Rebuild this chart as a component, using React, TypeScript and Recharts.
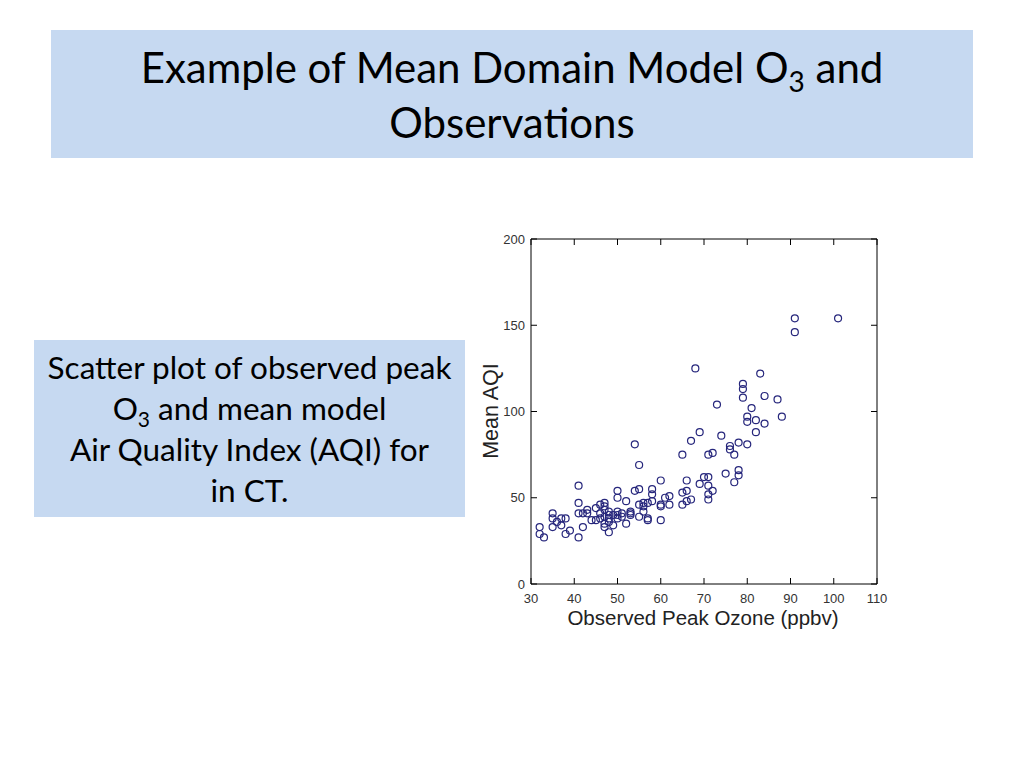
import React from 'react';
import {
  ScatterChart,
  Scatter,
  XAxis,
  YAxis,
} from 'recharts';

const obsOzone = [
  32, 32, 33, 35, 35, 35, 36, 37, 37, 38, 38, 39, 41, 41, 41, 41, 42, 42, 43, 43,
  44, 45, 45, 46, 46, 47, 47, 47, 47, 47, 48, 48, 48, 48, 48, 49, 50, 50, 50, 50,
  51, 52, 52, 53, 53, 54, 54, 55, 55, 55, 55, 56, 56, 57, 57, 57, 58, 58, 58, 60,
  60, 60, 60, 61, 62, 62, 65, 65, 65, 66, 66, 66, 67, 67, 68, 69, 69, 70, 71, 71,
  72, 71, 71, 71, 72, 73, 74, 75, 76, 76, 77, 77, 78, 78, 78, 79, 79, 79, 80, 80,
  80, 81, 82, 82, 83, 84, 84, 87, 88, 91, 91, 101, 46, 49, 51, 47, 53, 56, 50,
];
const meanAqi = [
  33, 29, 27, 41, 38, 33, 36, 38, 34, 38, 29, 31, 57, 47, 41, 27, 41, 33, 43, 41,
  37, 37, 44, 46, 41, 47, 43, 39, 35, 33, 40, 36, 30, 38, 42, 34, 54, 50, 42, 38,
  39, 48, 35, 41, 40, 54, 81, 55, 69, 46, 39, 45, 42, 47, 38, 37, 55, 52, 48, 60,
  46, 45, 37, 50, 51, 46, 75, 53, 46, 60, 54, 48, 83, 49, 125, 88, 58, 62, 62, 75,
  76, 57, 52, 49, 54, 104, 86, 64, 80, 78, 75, 59, 82, 66, 63, 116, 113, 108, 97, 94,
  81, 102, 95, 88, 122, 109, 93, 107, 97, 154, 146, 154, 38, 40, 41, 45, 42, 47, 40,
];

const xTicks = [30, 40, 50, 60, 70, 80, 90, 100, 110];
const yTicks = [0, 50, 100, 150, 200];

const points = obsOzone.map((x, i) => ({ x, y: meanAqi[i] }));

const BOX_BLUE = '#c6d9f1';
const MARK = '#26267c';
const AXIS_FONT = 'Liberation Sans, Arial, sans-serif';
const TICK_LEN = 6;
const X_MARGIN = 9;
const Y_MARGIN = 6;

const OpenCircle = (props: any) => {
  const { cx, cy } = props;
  return <circle cx={cx} cy={cy} r={3.5} fill="none" stroke={MARK} strokeWidth={1.2} />;
};

// ticks drawn inside the frame, labels outside
const BottomTick = ({ x, y, payload }: any) => {
  const base = y - X_MARGIN;
  return (
    <g>
      <line x1={x} y1={base} x2={x} y2={base - TICK_LEN} stroke="#000" />
      <text x={x} y={y} dy="0.8em" textAnchor="middle" fontFamily={AXIS_FONT} fontSize={13} fill="#333">
        {payload.value}
      </text>
    </g>
  );
};

const LeftTick = ({ x, y, payload }: any) => {
  const base = x + Y_MARGIN;
  return (
    <g>
      <line x1={base} y1={y} x2={base + TICK_LEN} y2={y} stroke="#000" />
      <text x={x} y={y} dy="0.36em" textAnchor="end" fontFamily={AXIS_FONT} fontSize={13} fill="#333">
        {payload.value}
      </text>
    </g>
  );
};

const TopTick = ({ x, y }: any) => <line x1={x} y1={y} x2={x} y2={y + TICK_LEN} stroke="#000" />;
const RightTick = ({ x, y }: any) => <line x1={x} y1={y} x2={x - TICK_LEN} y2={y} stroke="#000" />;

export default function App() {
  return (
    <div
      style={{
        position: 'absolute',
        left: 0,
        top: 0,
        width: 1024,
        height: 768,
        background: '#fff',
        fontFamily: 'Lato, "Open Sans", sans-serif',
        color: '#000',
      }}
    >
      <div
        style={{
          position: 'absolute',
          left: 51,
          top: 30,
          width: 922,
          height: 128,
          background: BOX_BLUE,
          textAlign: 'center',
          fontSize: 42,
          lineHeight: '55px',
          paddingTop: 10,
          boxSizing: 'border-box',
        }}
      >
        Example of Mean Domain Model O<sub style={{ fontSize: 28, lineHeight: 0 }}>3</sub> and
        <br />
        Observations
      </div>

      <div
        style={{
          position: 'absolute',
          left: 34,
          top: 340,
          width: 431,
          height: 177,
          background: BOX_BLUE,
          textAlign: 'center',
          fontSize: 31.5,
          lineHeight: '41px',
          paddingTop: 7,
          boxSizing: 'border-box',
        }}
      >
        Scatter plot of observed peak
        <br />
        O<sub style={{ fontSize: 21, lineHeight: 0 }}>3</sub> and mean model
        <br />
        Air Quality Index (AQI) for
        <br />
        in CT.
      </div>

      <div style={{ position: 'absolute', left: 470, top: 225 }}>
        <ScatterChart width={430} height={420} margin={{ top: 13, right: 22, bottom: 0, left: 0 }}>
          <XAxis
            type="number"
            dataKey="x"
            domain={[30, 110]}
            ticks={xTicks}
            interval={0}
            height={61}
            stroke="#000"
            tickLine={false}
            tickSize={0}
            tickMargin={X_MARGIN}
            tick={<BottomTick />}
          />
          <XAxis
            xAxisId="top"
            orientation="top"
            type="number"
            dataKey="x"
            domain={[30, 110]}
            ticks={xTicks}
            interval={0}
            height={1}
            stroke="#000"
            tickLine={false}
            tickSize={0}
            tickMargin={0}
            tick={<TopTick />}
          />
          <YAxis
            type="number"
            dataKey="y"
            domain={[0, 200]}
            ticks={yTicks}
            interval={0}
            width={61}
            stroke="#000"
            tickLine={false}
            tickSize={0}
            tickMargin={Y_MARGIN}
            tick={<LeftTick />}
          />
          <YAxis
            yAxisId="right"
            orientation="right"
            type="number"
            dataKey="y"
            domain={[0, 200]}
            ticks={yTicks}
            interval={0}
            width={1}
            stroke="#000"
            tickLine={false}
            tickSize={0}
            tickMargin={0}
            tick={<RightTick />}
          />
          <Scatter data={points} shape={OpenCircle} isAnimationActive={false} />
          {/* same points on the mirrored axes so the frame axes get drawn; no marks */}
          <Scatter data={points} xAxisId="top" yAxisId="right" shape={() => <g />} isAnimationActive={false} />
        </ScatterChart>
      </div>

      <div
        style={{
          position: 'absolute',
          left: 553,
          top: 606,
          width: 300,
          textAlign: 'center',
          fontFamily: AXIS_FONT,
          fontSize: 20.5,
          color: '#222',
        }}
      >
        Observed Peak Ozone (ppbv)
      </div>
      <div
        style={{
          position: 'absolute',
          left: 491,
          top: 411,
          transform: 'translate(-50%, -50%) rotate(-90deg)',
          whiteSpace: 'nowrap',
          fontFamily: AXIS_FONT,
          fontSize: 21.5,
          color: '#222',
        }}
      >
        Mean AQI
      </div>
    </div>
  );
}
